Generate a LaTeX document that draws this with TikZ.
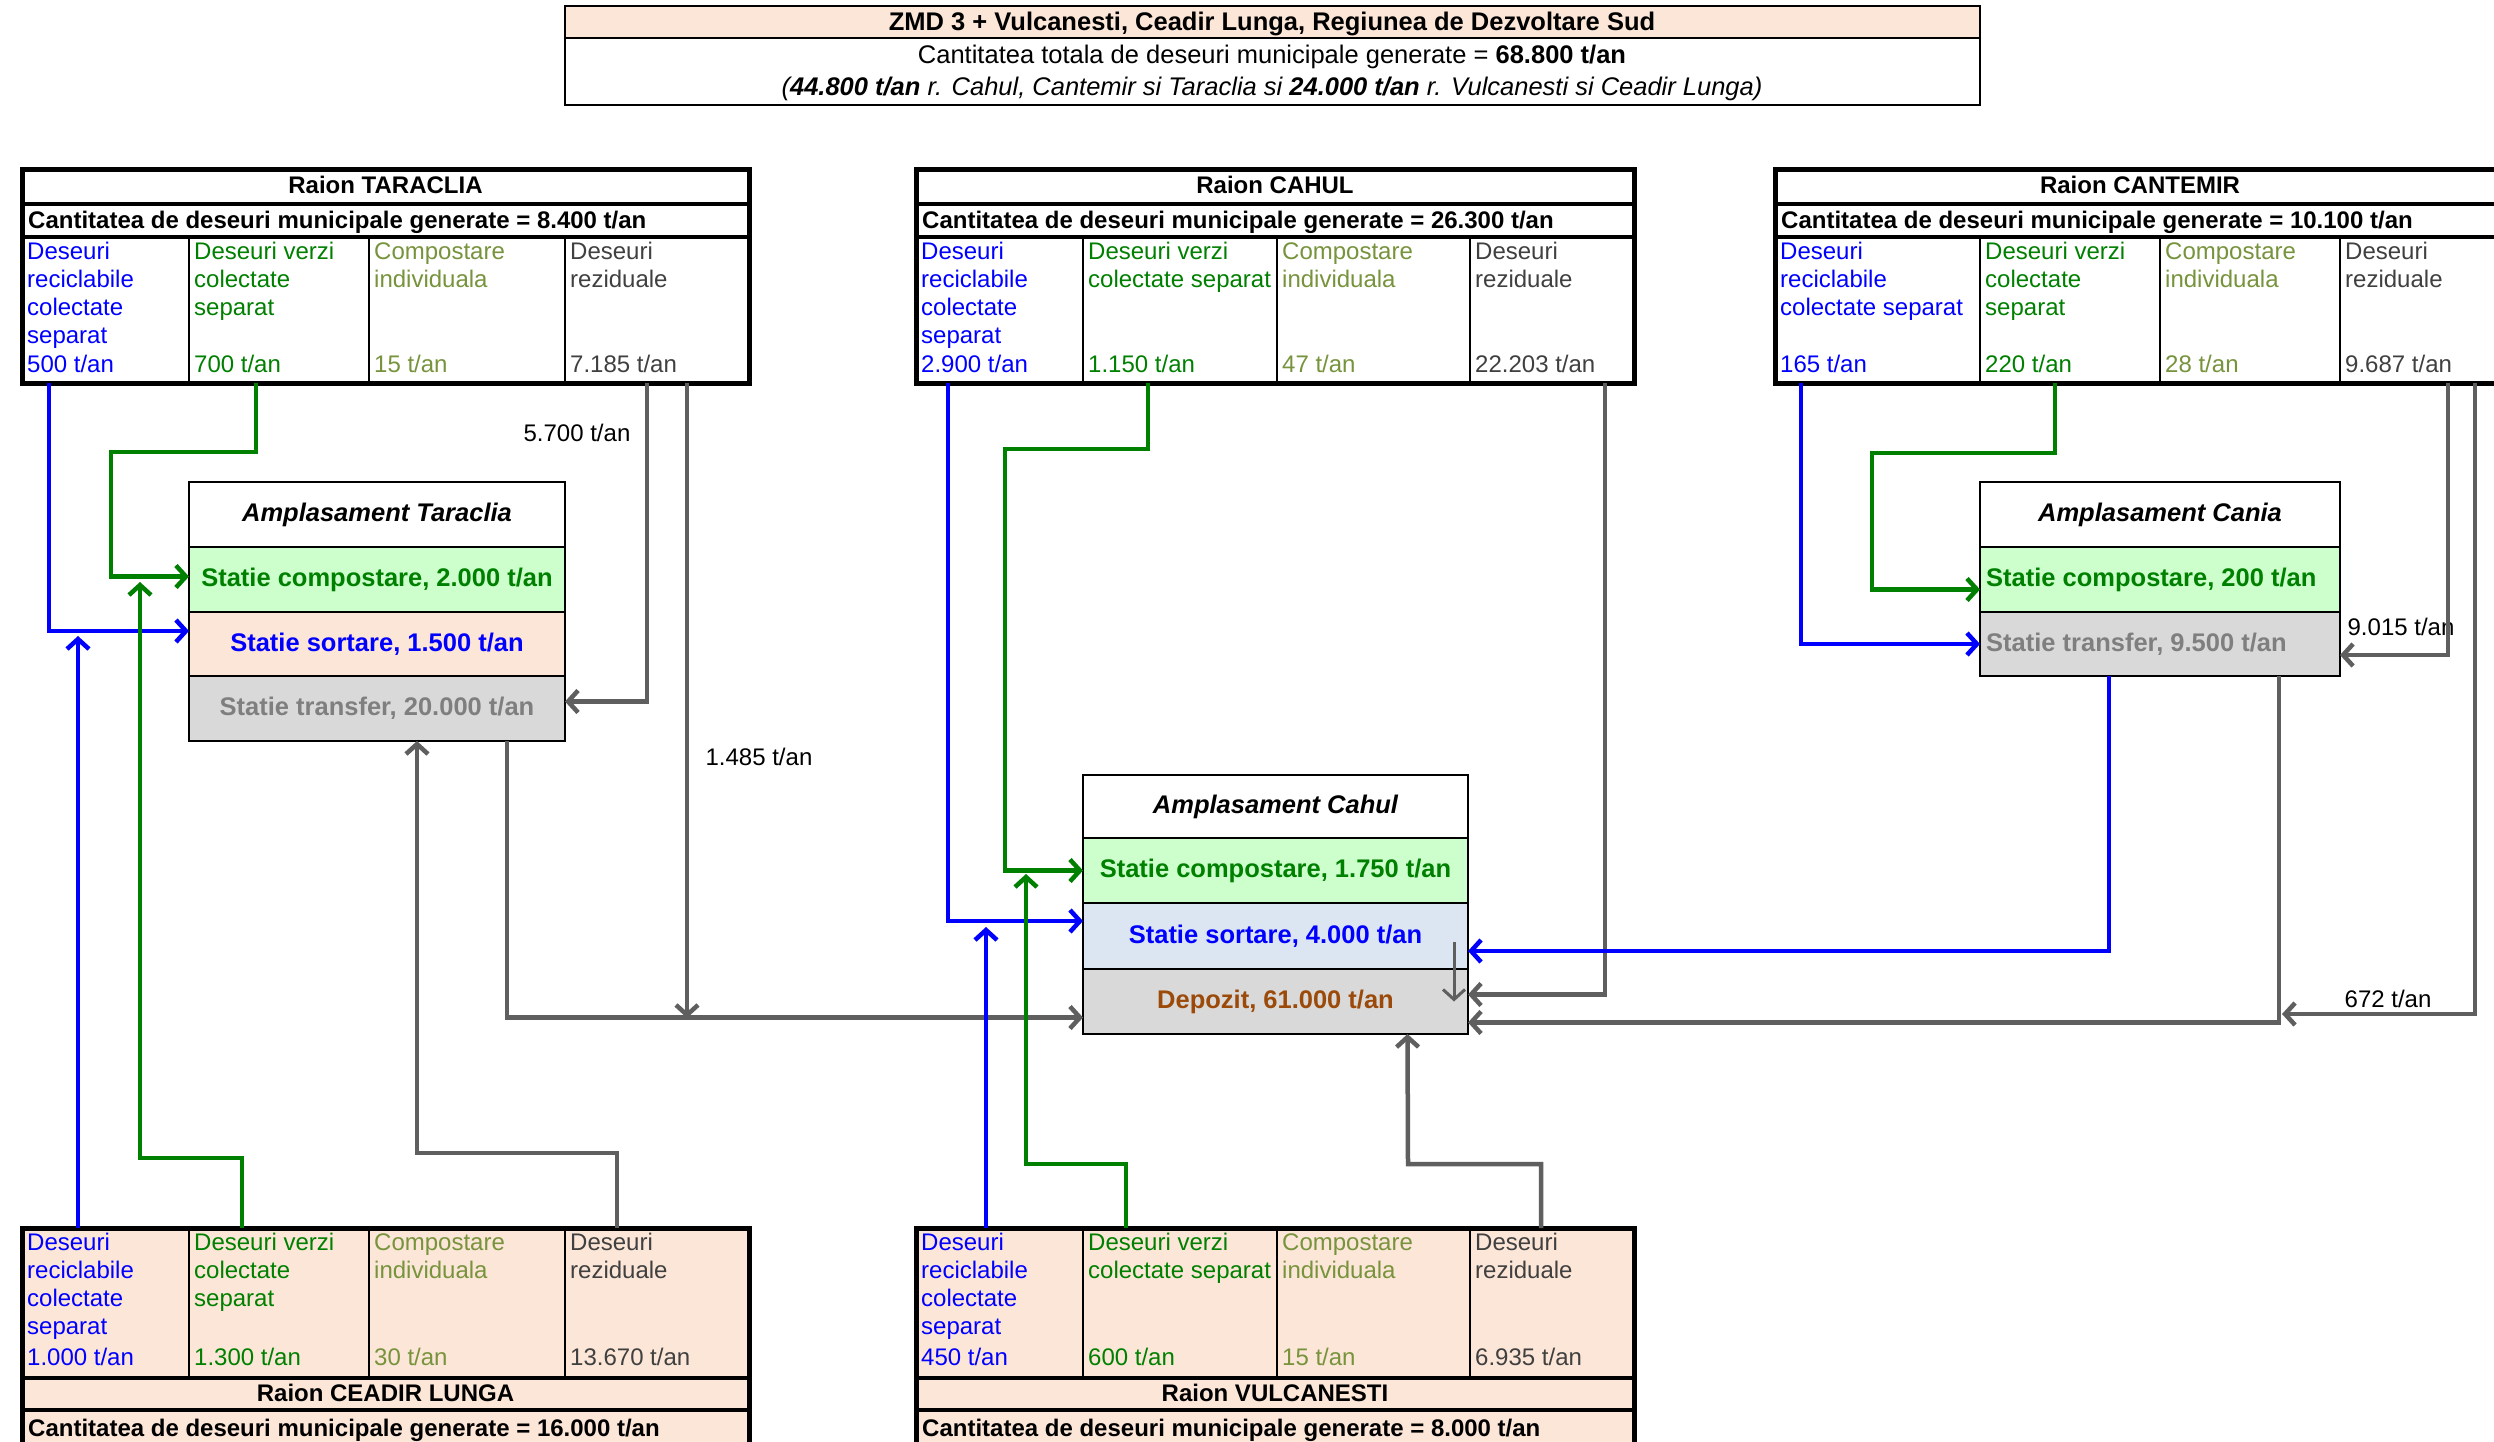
\documentclass[tikz,border=0pt]{standalone}
\usepackage{fontspec}
\setmainfont{Liberation Sans}
\usetikzlibrary{arrows.meta,fit,calc}
\definecolor{cblue}{HTML}{0000FF}
\definecolor{cgreen}{HTML}{008000}
\definecolor{colive}{HTML}{77933C}
\definecolor{cdgrey}{HTML}{404040}
\definecolor{cgreytxt}{HTML}{7F7F7F}
\definecolor{carrow}{HTML}{5F5F5F}
\definecolor{cpeach}{HTML}{FCE6D8}
\definecolor{clgreen}{HTML}{CCFFCC}
\definecolor{clblue}{HTML}{DCE6F2}
\definecolor{clgrey}{HTML}{D9D9D9}
\definecolor{cbrown}{HTML}{9C4A0A}
\newcommand\fc{\fontsize{24}{28.3}\selectfont}
\newcommand\fb{\fontsize{25.5}{30}\selectfont}
\tikzset{
  cellbox/.style={draw=black, line width=2pt, inner sep=0pt, outer sep=0pt},
  rowbox/.style={draw=black, line width=4.5pt, inner sep=0pt, outer sep=0pt},
  thinbox/.style={draw=black, line width=2pt, inner sep=0pt, outer sep=0pt},
  abox/.style={draw=black, line width=2.5pt, inner sep=0pt, outer sep=0pt},
  atxt/.style={inner sep=0pt, font=\fb\bfseries},
  ctxt/.style={anchor=north west, inner sep=0pt, align=left, font=\fc},
  cval/.style={anchor=base west, inner sep=0pt, font=\fc},
  lbl/.style={inner sep=0pt, font=\fc, text=black},
  flow/.style={line width=4.5pt, -{Straight Barb[length=10pt,width=22pt]}},
  bl/.style={flow, draw=cblue},
  gr/.style={flow, draw=cgreen},
  gy/.style={flow, draw=carrow},
}
% top table: prefix, x0, d1, d2, d3, x1, title, qty, fill
\newcommand\toptable[9]{%
  \node[cellbox, fill=#9, fit={(#2,237)(#3,383)}] (#1A) {};
  \node[cellbox, fill=#9, fit={(#3,237)(#4,383)}] (#1B) {};
  \node[cellbox, fill=#9, fit={(#4,237)(#5,383)}] (#1C) {};
  \node[cellbox, fill=#9, fit={(#5,237)(#6,383)}] (#1D) {};
  \node[rowbox, fill=#9, fit={(#2,170)(#6,204)}] (#1T) {};
  \node[rowbox, fill=#9, fit={(#2,204)(#6,237)}] (#1Q) {};
  \node[anchor=base, inner sep=0pt, font=\fc\bfseries] (#1Tt) at ($(#2,194)!0.5!(#6,194)$) {#7};
  \node[anchor=base west, inner sep=0pt, font=\fc\bfseries] (#1Qt) at (#2+6,229) {#8};
  \draw[line width=5pt] (#2,170) rectangle (#6,383);
}
\newcommand\bottable[9]{%
  \node[cellbox, fill=#9, fit={(#2,1228)(#3,1378)}] (#1A) {};
  \node[cellbox, fill=#9, fit={(#3,1228)(#4,1378)}] (#1B) {};
  \node[cellbox, fill=#9, fit={(#4,1228)(#5,1378)}] (#1C) {};
  \node[cellbox, fill=#9, fit={(#5,1228)(#6,1378)}] (#1D) {};
  \node[rowbox, fill=#9, fit={(#2,1378)(#6,1410)}] (#1T) {};
  \node[rowbox, fill=#9, fit={(#2,1410)(#6,1460)}] (#1Q) {};
  \node[anchor=base, inner sep=0pt, font=\fc\bfseries] (#1Tt) at ($(#2,1401)!0.5!(#6,1401)$) {#7};
  \node[anchor=base west, inner sep=0pt, font=\fc\bfseries] (#1Qt) at (#2+6,1436) {#8};
  \draw[line width=5pt] (#2,1228) rectangle (#6,1460);
}
% cell text: cell node, colour, text, value, value offset
\newcommand\ctext[5]{%
  \node[ctxt, text=#2] (#1t) at ([xshift=5pt,yshift=-2pt]#1.north west) {\strut #3};
  \node[cval, text=#2] (#1v) at ([xshift=5pt,yshift=#5]#1.south west) {#4};
}
\begin{document}
\begin{tikzpicture}[x=1pt,y=-1pt]
\useasboundingbox (0,0) rectangle (2494,1442);
\clip (0,0) rectangle (2494,1442);
\fill[white] (0,0) rectangle (2494,1442);

% ---------- header ----------
\node[thinbox, fill=cpeach, fit={(565,6)(1980,38)}] (hdr) {};
\node[thinbox, fit={(565,38)(1980,105)}] (hdrB) {};
\node[font=\fb\bfseries, anchor=base, inner sep=0pt] (hdr1) at (1272,31) {ZMD 3 + Vulcanesti, Ceadir Lunga, Regiunea de Dezvoltare Sud};
\node[font=\fb, anchor=base, inner sep=0pt] (hdr2) at (1272,64) {Cantitatea totala de deseuri municipale generate = \textbf{68.800 t/an}};
\node[font=\fb\itshape, anchor=base, inner sep=0pt] (hdr3) at (1272,96) {(\textbf{44.800 t/an} r. Cahul, Cantemir si Taraclia si \textbf{24.000 t/an} r. Vulcanesti si Ceadir Lunga)};

% ---------- tables ----------
\toptable{tar}{22}{189}{369}{565}{749}{Raion TARACLIA}{Cantitatea de deseuri municipale generate = 8.400 t/an}{white}
\toptable{cah}{916}{1083}{1277}{1470}{1634}{Raion CAHUL}{Cantitatea de deseuri municipale generate = 26.300 t/an}{white}
\toptable{can}{1775}{1980}{2160}{2340}{2505}{Raion CANTEMIR}{Cantitatea de deseuri municipale generate = 10.100 t/an}{white}
\bottable{cea}{22}{189}{369}{565}{749}{Raion CEADIR LUNGA}{Cantitatea de deseuri municipale generate = 16.000 t/an}{cpeach}
\bottable{vul}{916}{1083}{1277}{1470}{1634}{Raion VULCANESTI}{Cantitatea de deseuri municipale generate = 8.000 t/an}{cpeach}

\ctext{tarA}{cblue}{Deseuri\\reciclabile\\colectate\\separat}{500 t/an}{11pt}
\ctext{tarB}{cgreen}{Deseuri verzi\\colectate\\separat}{700 t/an}{11pt}
\ctext{tarC}{colive}{Compostare\\individuala}{15 t/an}{11pt}
\ctext{tarD}{cdgrey}{Deseuri\\reziduale}{7.185 t/an}{11pt}

\ctext{cahA}{cblue}{Deseuri\\reciclabile\\colectate\\separat}{2.900 t/an}{11pt}
\ctext{cahB}{cgreen}{Deseuri verzi\\colectate separat}{1.150 t/an}{11pt}
\ctext{cahC}{colive}{Compostare\\individuala}{47 t/an}{11pt}
\ctext{cahD}{cdgrey}{Deseuri\\reziduale}{22.203 t/an}{11pt}

\ctext{canA}{cblue}{Deseuri\\reciclabile\\colectate separat}{165 t/an}{11pt}
\ctext{canB}{cgreen}{Deseuri verzi\\colectate\\separat}{220 t/an}{11pt}
\ctext{canC}{colive}{Compostare\\individuala}{28 t/an}{11pt}
\ctext{canD}{cdgrey}{Deseuri\\reziduale}{9.687 t/an}{11pt}

\ctext{ceaA}{cblue}{Deseuri\\reciclabile\\colectate\\separat}{1.000 t/an}{13pt}
\ctext{ceaB}{cgreen}{Deseuri verzi\\colectate\\separat}{1.300 t/an}{13pt}
\ctext{ceaC}{colive}{Compostare\\individuala}{30 t/an}{13pt}
\ctext{ceaD}{cdgrey}{Deseuri\\reziduale}{13.670 t/an}{13pt}

\ctext{vulA}{cblue}{Deseuri\\reciclabile\\colectate\\separat}{450 t/an}{13pt}
\ctext{vulB}{cgreen}{Deseuri verzi\\colectate separat}{600 t/an}{13pt}
\ctext{vulC}{colive}{Compostare\\individuala}{15 t/an}{13pt}
\ctext{vulD}{cdgrey}{Deseuri\\reziduale}{6.935 t/an}{13pt}

% ---------- sites ----------
\node[abox, fit={(189,482)(565,547)}] (atT) {};
\node[abox, fill=clgreen, fit={(189,547)(565,612)}] (atC) {};
\node[abox, fill=cpeach, fit={(189,612)(565,676)}] (atS) {};
\node[abox, fill=clgrey, fit={(189,676)(565,741)}] (atX) {};
\node[atxt, font=\fb\bfseries\itshape] (atTt) at (atT.center) {Amplasament Taraclia};
\node[atxt, text=cgreen] (atCt) at (atC.center) {Statie compostare, 2.000 t/an};
\node[atxt, text=cblue] (atSt) at (atS.center) {Statie sortare, 1.500 t/an};
\node[atxt, text=cgreytxt] (atXt) at (atX.center) {Statie transfer, 20.000 t/an};

\node[abox, fit={(1083,775)(1468,838)}] (acT) {};
\node[abox, fill=clgreen, fit={(1083,838)(1468,903)}] (acC) {};
\node[abox, fill=clblue, fit={(1083,903)(1468,969)}] (acS) {};
\node[abox, fill=clgrey, fit={(1083,969)(1468,1034)}] (acD) {};
\node[atxt, font=\fb\bfseries\itshape] (acTt) at (acT.center) {Amplasament Cahul};
\node[atxt, text=cgreen] (acCt) at (acC.center) {Statie compostare, 1.750 t/an};
\node[atxt, text=cblue] (acSt) at (acS.center) {Statie sortare, 4.000 t/an};
\node[atxt, text=cbrown] (acDt) at (acD.center) {Depozit, 61.000 t/an};

\node[abox, fit={(1980,482)(2340,547)}] (anT) {};
\node[abox, fill=clgreen, fit={(1980,547)(2340,612)}] (anC) {};
\node[abox, fill=clgrey, fit={(1980,612)(2340,676)}] (anX) {};
\node[atxt, font=\fb\bfseries\itshape] (anTt) at (anT.center) {Amplasament Cania};
\node[atxt, anchor=west, text=cgreen] (anCt) at ([xshift=6pt]anC.west) {Statie compostare, 200 t/an};
\node[atxt, anchor=west, text=cgreytxt] (anXt) at ([xshift=6pt]anX.west) {Statie transfer, 9.500 t/an};

% ---------- labels ----------
\node[lbl] (l5700) at (577,433) {5.700 t/an};
\node[lbl] (l1485) at (759,757) {1.485 t/an};
\node[lbl] (l9015) at (2401,627) {9.015 t/an};
\node[lbl] (l672) at (2388,999) {672 t/an};

% ---------- free ends ----------
\coordinate (j1485) at (687,1018);
\coordinate (jceaB) at (78,636);
\coordinate (jceaG) at (140,582);
\coordinate (jvulB) at (986,927);
\coordinate (jvulG) at (1026,874);
\coordinate (j672) at (2282,1014);

% ---------- Taraclia flows ----------
\draw[bl] ([xshift=27pt]tarA.south west) |- ([yshift=13pt]atS.west);
\draw[gr] ([xshift=67pt]tarB.south west) |- (111,452) |- ([yshift=3pt]atC.west);
\draw[gy] ([xshift=82pt]tarD.south west) |- ([yshift=7pt]atX.east);
\draw[gy] ([xshift=122pt]tarD.south west) -- (j1485);
\draw[gy] ([xshift=130pt]atX.south) |- ([yshift=-16pt]acD.west);

% ---------- Ceadir Lunga flows ----------
\draw[bl] ([xshift=56pt]ceaA.north west) -- (jceaB);
\draw[gr] ([xshift=53pt]ceaB.north west) |- (140,1158) -- (jceaG);
\draw[gy] ([xshift=52pt]ceaD.north west) |- (417,1153) -- ([xshift=40pt]atX.south);

% ---------- Cahul flows ----------
\draw[bl] ([xshift=32pt]cahA.south west) |- ([yshift=15pt]acS.west);
\draw[gr] ([xshift=65pt]cahB.south west) |- (1005,449) |- (acC.west);
\draw[gy] ([xshift=135pt]cahD.south west) |- ([yshift=7pt]acD.east);
\draw[gy, line width=3pt] ([xshift=-14pt,yshift=-6pt]acS.east) -- ([xshift=-14pt]acD.east);

% ---------- Vulcanesti flows ----------
\draw[bl] ([xshift=70pt]vulA.north west) -- (jvulB);
\draw[gr] ([xshift=43pt]vulB.north west) |- (1026,1164) -- (jvulG);
\draw[gy] ([xshift=71pt]vulD.north west) |- (1408,1164) -- ([xshift=132pt]acD.south);

% ---------- Cantemir flows ----------
\draw[bl] ([xshift=26pt]canA.south west) |- (anX.west);
\draw[gr] ([xshift=75pt]canB.south west) |- (1872,453) |- ([yshift=-10pt]anC.west);
\draw[gy] ([xshift=108pt]canD.south west) |- ([yshift=-11pt]anX.east);
\draw[gy] ([xshift=135pt]canD.south west) |- (j672);
\draw[gy] ([xshift=119pt]anX.south) |- ([yshift=-21pt]acD.east);
\draw[bl] ([xshift=-51pt]anX.south) |- ([yshift=-15pt]acS.east);
\end{tikzpicture}
\end{document}
